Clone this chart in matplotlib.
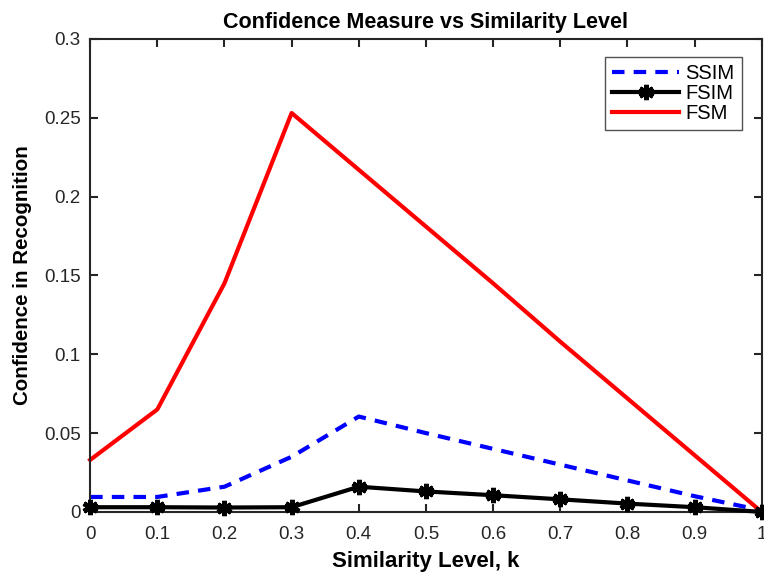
import matplotlib
matplotlib.use("Agg")
import matplotlib.pyplot as plt

plt.rcParams['font.family'] = ['Liberation Sans', 'DejaVu Sans']

k = [0, 0.1, 0.2, 0.3, 0.4, 0.5, 0.6, 0.7, 0.8, 0.9, 1.0]
ssim = [0.0095, 0.0095, 0.016, 0.035, 0.0605, 0.050, 0.040, 0.030, 0.020, 0.010, 0.001]
fsim = [0.003, 0.003, 0.0028, 0.003, 0.016, 0.013, 0.0106, 0.008, 0.0053, 0.003, 0.0]
fsm = [0.033, 0.065, 0.145, 0.253, 0.217, 0.181, 0.145, 0.108, 0.072, 0.036, 0.0]

xticks = [0, 0.1, 0.2, 0.3, 0.4, 0.5, 0.6, 0.7, 0.8, 0.9, 1]
xticklabels = ['0', '0.1', '0.2', '0.3', '0.4', '0.5', '0.6', '0.7', '0.8', '0.9', '1']
yticks = [0, 0.05, 0.1, 0.15, 0.2, 0.25, 0.3]
yticklabels = ['0', '0.05', '0.1', '0.15', '0.2', '0.25', '0.3']

fig = plt.figure(figsize=(7.64, 5.72), dpi=100)
ax = fig.add_axes([0.118, 0.105, 0.879, 0.827])

ax.plot(k, ssim, color='#0000ff', linestyle=(0, (3, 2.2)), linewidth=3, label='SSIM', clip_on=False)
ax.plot(k, fsim, color='black', linewidth=3, marker=(6, 2, 0), markersize=11,
        markeredgewidth=3.5, label='FSIM', clip_on=False, zorder=3)
ax.plot(k, fsm, color='#ff0000', linewidth=3, label='FSM', clip_on=False)

ax.set_xlim(0, 1)
ax.set_ylim(0, 0.3)
ax.set_xticks(xticks)
ax.set_xticklabels(xticklabels)
ax.set_yticks(yticks)
ax.set_yticklabels(yticklabels)
ax.tick_params(direction='in', top=True, right=True, length=6, width=1.5, labelsize=13.5, colors='#262626')
ax.tick_params(axis='x', pad=10)
ax.tick_params(axis='y', pad=6.8)
for s in ax.spines.values():
    s.set_linewidth(1.5)
    s.set_color('#262626')

ax.set_title('Confidence Measure vs Similarity Level', fontsize=15.5, fontweight='bold', pad=8)
ax.set_xlabel('Similarity Level, k', fontsize=16, fontweight='bold', labelpad=6)
ax.set_ylabel('Confidence in Recognition', fontsize=14.8, fontweight='bold', labelpad=8.5)

leg = ax.legend(loc='upper right', bbox_to_anchor=(0.970, 0.962), fontsize=14.5, frameon=True,
                fancybox=False, edgecolor='#262626', borderpad=0.35, handlelength=3.35,
                handletextpad=0.3, labelspacing=0.05, borderaxespad=0)
leg.get_frame().set_linewidth(1.0)

fig.savefig('out.png', dpi=100)
